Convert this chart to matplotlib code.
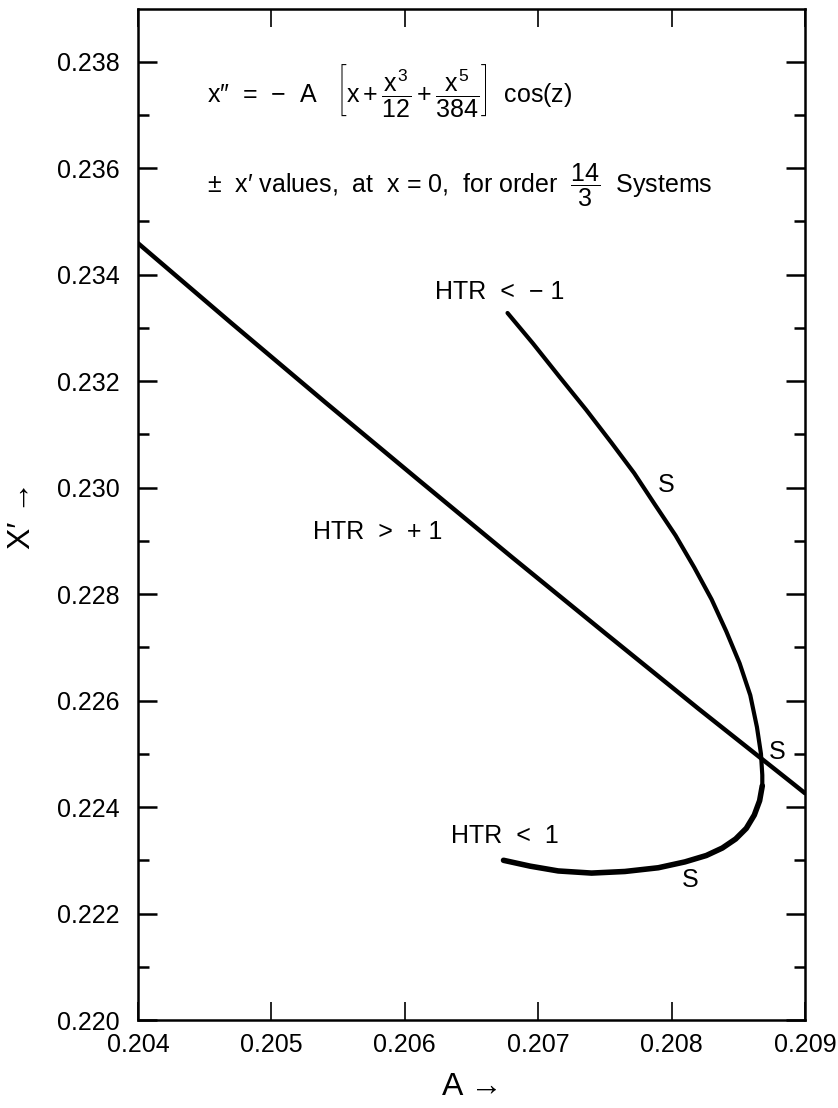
import numpy as np
import matplotlib
matplotlib.use('Agg')
import matplotlib.pyplot as plt
from matplotlib.ticker import MultipleLocator, FormatStrFormatter

plt.rcParams['font.family'] = ['Liberation Sans', 'DejaVu Sans']
plt.rcParams['mathtext.fontset'] = 'custom'
plt.rcParams['mathtext.rm'] = 'Liberation Sans'
plt.rcParams['mathtext.it'] = 'Liberation Sans'
plt.rcParams['mathtext.bf'] = 'Liberation Sans:bold'

# HTR > +1 branch (A, x')
a_plus = [0.2040, 0.2047, 0.2054, 0.2061, 0.2068, 0.2075, 0.2082, 0.2089, 0.2090]
xp_plus = [0.23459, 0.23309, 0.23161, 0.23015, 0.22870, 0.22727, 0.22585, 0.22446, 0.22426]

# S curve, upper part (HTR < -1) down to the nose
a_upper = [0.20677, 0.20696, 0.20716, 0.20736, 0.20755, 0.20772, 0.20787, 0.20803,
           0.20817, 0.20830, 0.20841, 0.20851, 0.20859, 0.20864, 0.20867, 0.20868, 0.20868]
xp_upper = [0.23328, 0.23271, 0.23208, 0.23146, 0.23084, 0.23027, 0.22970, 0.22910,
            0.22850, 0.22790, 0.22730, 0.22670, 0.22610, 0.22550, 0.22500, 0.22460, 0.22440]

# S curve, lower part (HTR < 1)
a_lower = [0.20868, 0.20866, 0.20862, 0.20856, 0.20848, 0.20838, 0.20826, 0.20810,
           0.20790, 0.20765, 0.20740, 0.20715, 0.20694, 0.20674]
xp_lower = [0.22440, 0.22412, 0.22385, 0.22360, 0.22340, 0.22323, 0.22309, 0.22297,
            0.22286, 0.22279, 0.22276, 0.22280, 0.22289, 0.22300]

x_ticks = [0.204, 0.205, 0.206, 0.207, 0.208, 0.209]
y_ticks = [0.220, 0.222, 0.224, 0.226, 0.228, 0.230, 0.232, 0.234, 0.236, 0.238]

fig = plt.figure(figsize=(8.38, 11.08), dpi=100)
ax = fig.add_axes([0.1647, 0.0794, 0.7959, 0.9125])

ax.plot(a_plus, xp_plus, color='black', lw=3.2, solid_capstyle='round',
        solid_joinstyle='round')
ax.plot(a_upper, xp_upper, color='black', lw=3.0, solid_capstyle='round',
        solid_joinstyle='round')
ax.plot(a_lower, xp_lower, color='black', lw=4.0, solid_capstyle='round',
        solid_joinstyle='round')

ax.set_xlim(0.204, 0.209)
ax.set_ylim(0.220, 0.23899)
ax.set_xticks(x_ticks)
ax.set_yticks(y_ticks)
ax.yaxis.set_minor_locator(MultipleLocator(0.001))
ax.xaxis.set_major_formatter(FormatStrFormatter('%.3f'))
ax.yaxis.set_major_formatter(FormatStrFormatter('%.3f'))

ax.tick_params(which='both', direction='in', top=True, right=True, labelsize=18)
ax.tick_params(axis='y', which='major', length=14, width=1.8, pad=13)
ax.tick_params(axis='y', which='minor', length=8, width=1.8)
ax.tick_params(axis='x', which='major', length=13, width=1.2, pad=9)
for s in ax.spines.values():
    s.set_linewidth(1.8)

# equation and annotations
ax.text(0.20452, 0.23746,
        r'x″  =  −  A   $\left[x+\dfrac{x^3}{12}+\dfrac{x^5}{384}\right]$  cos(z)',
        fontsize=18, va='center', ha='left')
ax.text(0.20452, 0.23568,
        r'$\pm$  x′ values,  at  x = 0,  for order  $\dfrac{14}{3}$  Systems',
        fontsize=18, va='center', ha='left')

ax.text(0.20623, 0.23367, 'HTR  <  − 1', fontsize=18, va='center', ha='left')
ax.text(0.20531, 0.22916, 'HTR  >  + 1', fontsize=18, va='center', ha='left')
ax.text(0.20635, 0.22346, 'HTR  <  1', fontsize=18, va='center', ha='left')
ax.text(0.20796, 0.23005, 'S', fontsize=18, va='center', ha='center')
ax.text(0.20879, 0.22503, 'S', fontsize=18, va='center', ha='center')
ax.text(0.20814, 0.22263, 'S', fontsize=18, va='center', ha='center')

fig.text(0.026, 0.535, 'X′ →', rotation=90, fontsize=23, ha='center', va='center')
fig.text(0.563, 0.019, 'A →', fontsize=23, ha='center', va='center')

fig.savefig('out.png', dpi=100)
